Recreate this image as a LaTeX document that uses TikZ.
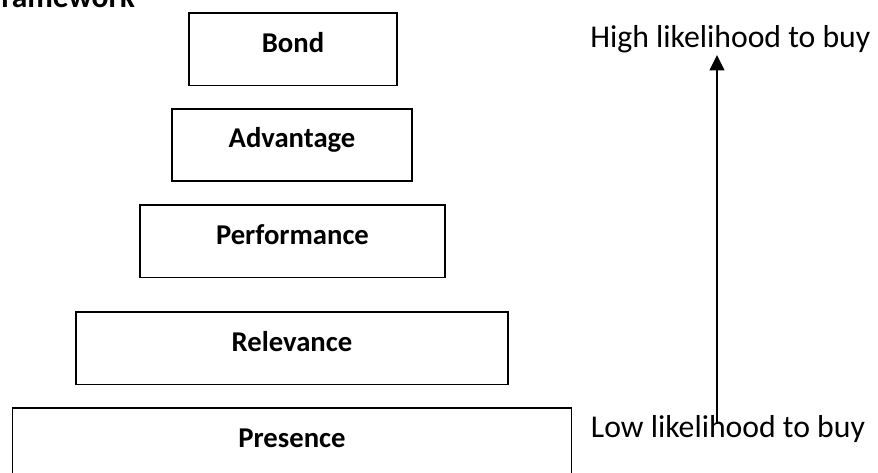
\documentclass[tikz,border=0pt]{standalone}
\usepackage{fontspec}
\setmainfont{Carlito}
\usetikzlibrary{arrows.meta}

\begin{document}
\begin{tikzpicture}[x=0.75pt, y=-0.75pt, >={Triangle[length=11.5pt,width=11pt]},
    tier/.style={draw, line width=1.2pt, minimum height=54.4pt, inner sep=0pt,
      text height=9pt, text depth=4.5pt, font=\fontsize{21.5}{25}\selectfont\bfseries},
    side/.style={anchor=base west, inner sep=0pt, font=\fontsize{23.8}{28}\selectfont}]
    \useasboundingbox (0,0) rectangle (878,473);
    \clip (0,0) rectangle (878,473);
    \node[anchor=base west, inner sep=0pt, font=\fontsize{23.6}{28}\selectfont\bfseries] (title) at (1,7.5) {ramework};
    % pyramid of tiers, widest at the bottom
    \node[tier, minimum width=156pt] (bond) at (293,49.2) {Bond};
    \node[tier, minimum width=180pt] (advantage) at (292,145) {Advantage};
    \node[tier, minimum width=228.75pt] (performance) at (292.5,241.3) {Performance};
    \node[tier, minimum width=324pt] (relevance) at (292,348.3) {Relevance};
    \node[tier, minimum width=419.25pt] (presence) at (292,444.5) {Presence};
    \node[side] (high) at (590,47.7) {High likelihood to buy};
    \node[side] (low) at (590.7,437.3) {Low likelihood to buy};
    \coordinate (lowend) at (717,424);
    \coordinate (highend) at (717,55);
    \draw[->, line width=1.4pt] (lowend) -- (highend);
\end{tikzpicture}
\end{document}
